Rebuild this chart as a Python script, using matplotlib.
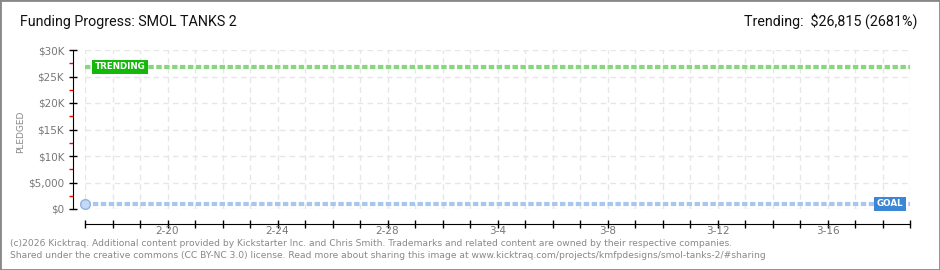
import matplotlib.pyplot as plt
import numpy as np
import pandas as pd

# data
days = pd.date_range('2026-02-17', '2026-03-19', freq='D')
label_every = 4
pledged_days = [0]
pledged_values = [1000]
goal = 1000
trending = 26815
y_ticks = [0, 5000, 10000, 15000, 20000, 25000, 30000]
y_labels = ['$0', '$5,000', '$10K', '$15K', '$20K', '$25K', '$30K']

fig = plt.figure(figsize=(9.4, 2.7), dpi=100)
fig.patch.set_facecolor('white')
ax = fig.add_axes([85/940, 1 - 209/270, 825/940, 159/270])

n = len(days) - 1
x = np.arange(len(days))

# goal and trending lines
ax.plot([0, n], [goal, goal], color='#a9c6ee', lw=3, ls=(0, (1.3, 0.6)), zorder=3)
ax.plot([0, n], [trending, trending], color='#86d77d', lw=3, ls=(0, (1.3, 0.6)), zorder=3)
ax.plot(pledged_days, pledged_values, 'o', ms=7, mfc='#c3d9f5', mec='#8fb2e0',
        clip_on=False, zorder=4)

ax.text(0.35, trending, 'TRENDING', color='white', fontsize=6.3, fontweight='bold',
        va='center', ha='left', zorder=5,
        bbox=dict(boxstyle='square,pad=0.3', fc='#14b80a', ec='none'))
ax.text(n - 0.25, goal, 'GOAL', color='white', fontsize=6.3, fontweight='bold',
        va='center', ha='right', zorder=5,
        bbox=dict(boxstyle='square,pad=0.3', fc='#3a87d6', ec='none'))

ax.set_xlim(0, n)
ax.set_ylim(0, 30000)

ax.set_xticks(x)
ax.set_xticklabels([d.strftime('%-m-%-d') if (i % label_every == 3) else ''
                    for i, d in enumerate(days)])
ax.set_yticks(y_ticks)
ax.set_yticklabels(y_labels)
ax.set_yticks(np.arange(2500, 30000, 5000), minor=True)

ax.tick_params(axis='both', which='major', direction='inout', length=6,
               width=1, colors='black', labelcolor='#777777', labelsize=7.5)
ax.tick_params(axis='y', which='minor', direction='out', length=3,
               width=1, colors='red')
ax.tick_params(axis='x', pad=-2)
ax.tick_params(axis='y', pad=3)

for s in ['top', 'right']:
    ax.spines[s].set_visible(False)
ax.spines['left'].set_position(('outward', 9))
ax.spines['bottom'].set_position(('outward', 11))

ax.grid(True, color='#e6e6e6', ls=(0, (4, 3)), lw=1)
ax.set_axisbelow(True)

fig.text(21/940, 1 - 132/270, 'PLEDGED', rotation=90, color='#888888',
         fontsize=6.5, va='center', ha='center')

fig.text(20/940, 1 - 22/270, 'Funding Progress: SMOL TANKS 2', fontsize=10.3,
         color='#111111', va='center', ha='left', family=['Roboto', 'DejaVu Sans'])
fig.text(917/940, 1 - 21/270, 'Trending:  $26,815 (2681%)', fontsize=10.3,
         color='#111111', va='center', ha='right', family=['Roboto', 'DejaVu Sans'])

fig.text(10/940, 1 - 243/270,
         '(c)2026 Kicktraq. Additional content provided by Kickstarter Inc. and Chris Smith. '
         'Trademarks and related content are owned by their respective companies.',
         fontsize=6.6, color='#888888', va='center', ha='left')
fig.text(10/940, 1 - 256/270,
         'Shared under the creative commons (CC BY-NC 3.0) license. Read more about sharing '
         'this image at www.kicktraq.com/projects/kmfpdesigns/smol-tanks-2/#sharing',
         fontsize=6.6, color='#888888', va='center', ha='left')

# figure border
fig.add_artist(plt.Rectangle((0, 0), 1, 1, transform=fig.transFigure, fill=False,
                             ec='#888888', lw=2))

fig.savefig('out.png', dpi=100)
